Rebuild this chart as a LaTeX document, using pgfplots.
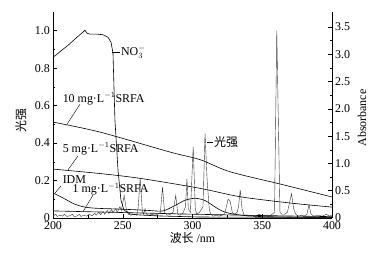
\documentclass[border=0pt]{standalone}
\usepackage{pgfplots}
\pgfplotsset{compat=1.18}
\usepackage{fontspec}
\setmainfont{Liberation Serif}
\newfontfamily\cjk{Noto Sans CJK SC}
\begin{document}
\fontsize{12}{14}\selectfont
\begin{tikzpicture}
\useasboundingbox (-53bp,-37bp) rectangle (337bp,218bp);
\pgfplotsset{
  common/.style={
    at={(0,0)}, anchor=south west,
    scale only axis, width=279bp, height=206bp,
    xmin=200, xmax=400,
    tick align=inside,
    major tick length=4bp, minor tick length=2.5bp,
    every tick/.style={black, line width=0.5pt},
    axis line style={line width=0.6pt},
    /pgf/number format/assume math mode=true,
    tick label style={font=\fontsize{12}{14}\selectfont},
  }
}
\begin{axis}[common,
  ymin=0, ymax=1.1,
  axis y line*=left, axis x line*=bottom,
  xtick={200,250,300,350,400}, xticklabels={200,250,300,350,400},
  minor x tick num=1,
  ytick={0,0.2,0.4,0.6,0.8,1.0}, yticklabels={0,0.2,0.4,0.6,0.8,1.0},
  minor y tick num=1,
  yticklabel style={xshift=1bp},
  xticklabel style={yshift=1bp},
]
\addplot[black!80, line width=0.4pt] coordinates {
(200,0.01) (202,0.02) (203,0.008) (205,0.015) (207,0.01) (208,0.02) (210,0.008)
(212,0.012) (214,0.02) (215,0.008) (217,0.01) (219,0.02) (220,0.008) (222,0.015)
(224,0.01) (226,0.02) (228,0.012) (230,0.025) (231,0.015) (233,0.03) (234,0.018)
(236,0.035) (237,0.02) (239,0.04) (240,0.025) (242,0.045) (243,0.03) (245,0.05)
(246,0.03) (248,0.06) (249,0.04) (251,0.12) (252.5,0.05) (254,0.02) (256,0.015)
(258,0.02) (260,0.015) (261,0.05) (262.5,0.21) (264,0.04) (265,0.02) (266,0.05)
(267,0.02) (269,0.015) (271,0.02) (273,0.015) (275,0.02) (277,0.03) (278.5,0.165)
(280,0.03) (282,0.015) (284,0.02) (286,0.03) (288,0.12) (289.5,0.02) (291,0.015)
(293,0.025) (295,0.06) (296,0.21) (297,0.05) (298.5,0.03) (300.5,0.38) (302,0.05)
(303,0.02) (305,0.03) (307.5,0.06) (309,0.45) (310.5,0.2) (312,0.05) (313,0.02)
(315,0.01) (317,0.015) (319,0.01) (321,0.015) (323,0.02) (324,0.05) (325.5,0.1)
(327,0.09) (328.5,0.03) (330,0.02) (332,0.03) (333,0.06) (334.2,0.15) (335.5,0.05)
(337,0.015) (340,0.01) (342,0.015) (345,0.01) (348,0.02) (350,0.01) (352,0.015)
(355,0.01) (357,0.02) (358.8,0.03) (360.4,1.0) (362.7,0.03) (364,0.02) (366,0.02)
(368,0.03) (369.5,0.08) (371,0.13) (372.5,0.05) (374,0.02) (376,0.01) (378,0.015)
(380,0.01) (382,0.02) (383.5,0.07) (385,0.02) (387,0.01) (390,0.015) (393,0.01)
(396,0.02) (398,0.01) (400,0.015)
};
% labels and leaders
\draw[line width=0.4pt] (axis cs:242.3,0.885) -- (axis cs:248,0.885);
\node[anchor=west, inner sep=0.5pt] at (axis cs:248.3,0.885) {NO$_3^-$};
\draw[line width=0.4pt] (axis cs:219.4,0.608) -- (axis cs:210,0.50);
\node[anchor=west, inner sep=0.5pt] at (axis cs:206.5,0.637) {10 mg·L$^{-1}$SRFA};
\draw[line width=0.4pt] (axis cs:217.9,0.331) -- (axis cs:210.8,0.258);
\node[anchor=west, inner sep=0.5pt] at (axis cs:206.5,0.37) {5 mg·L$^{-1}$SRFA};
\draw[line width=0.4pt] (axis cs:205.7,0.171) -- (axis cs:201.4,0.133);
\node[anchor=west, inner sep=0.5pt] at (axis cs:206.5,0.207) {IDM};
\draw[line width=0.4pt] (axis cs:228.7,0.123) -- (axis cs:221.5,0.033);
\node[anchor=west, inner sep=0.5pt] at (axis cs:213.6,0.155) {1 mg·L$^{-1}$SRFA};
\draw[line width=0.4pt] (axis cs:310.4,0.405) -- (axis cs:314.7,0.405);
\node[anchor=west, inner sep=0.5pt] at (axis cs:315,0.405) {\cjk 光强};
\end{axis}
\begin{axis}[common,
  ymin=0, ymax=3.777,
  axis y line*=right, axis x line=none,
  ytick={0,0.5,1.0,1.5,2.0,2.5,3.0,3.5},
  yticklabels={0,0.5,1.0,1.5,2.0,2.5,3.0,3.5},
  minor y tick num=1,
  yticklabel style={xshift=-1bp},
]
% NO3-
\addplot[black, line width=0.6pt] coordinates {
(200,2.949) (202.9,3.004) (206,3.07) (210,3.15) (214,3.24) (217.2,3.315)
(221.5,3.407) (222.9,3.443) (224.4,3.388) (226.5,3.37) (232,3.37) (235.8,3.36)
(239.4,3.315) (241.6,3.223) (243,3.022) (244.4,1.795) (246.6,0.879) (248.7,0.33)
(250.9,0.147) (255.2,0.073) (262.4,0.055) (276.7,0.037) (305,0.018) (400,0.01)
};
% 10 mg/L SRFA
\addplot[black, line width=0.6pt, smooth] coordinates {
(200,1.758) (233.7,1.575) (283.9,1.209) (305.4,1.07) (326.9,0.848) (362.8,0.623) (400,0.385)
};
% 5 mg/L SRFA
\addplot[black, line width=0.6pt, smooth] coordinates {
(200,0.897) (233.7,0.815) (262.4,0.727) (305.4,0.544) (334.1,0.39) (369.9,0.275) (400,0.2)
};
% IDM
\addplot[black, line width=0.6pt, smooth] coordinates {
(200,0.458) (204,0.41) (208.6,0.348) (215,0.26) (221.5,0.207) (230,0.18)
(245.9,0.165) (260,0.15) (269.5,0.137) (278.9,0.13) (287.5,0.23) (294.6,0.325)
(301.8,0.361) (309,0.32) (316.3,0.2) (322,0.12) (330.5,0.068) (348.4,0.027) (400,0.01)
};
% 1 mg/L SRFA
\addplot[black, line width=0.6pt, smooth] coordinates {
(200,0.13) (250,0.1) (300,0.07) (350,0.045) (400,0.025)
};
\end{axis}
% axis titles
\node[rotate=90, anchor=center] at (-32bp,97bp) {\cjk 光强};
\node[anchor=center] at (139.5bp,-20bp) {{\cjk 波长} /nm};
\node[rotate=90, anchor=center] at (309bp,100bp) {Absorbance};
\end{tikzpicture}
\end{document}
